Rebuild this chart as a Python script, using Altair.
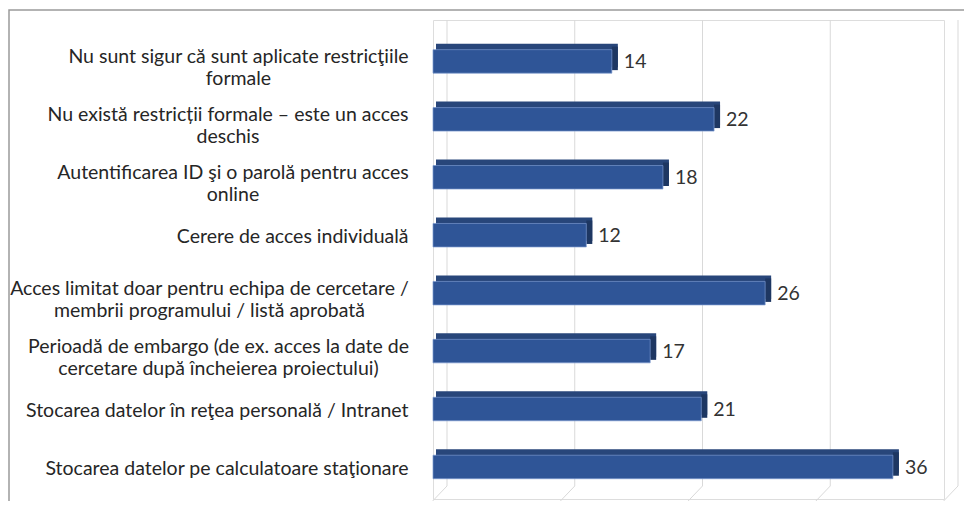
import altair as alt
import pandas as pd

categories = [
    "Nu sunt sigur că sunt aplicate restricţiile\nformale",
    "Nu există restricții formale – este un acces\ndeschis",
    "Autentificarea ID şi o parolă pentru acces\nonline",
    "Cerere de acces individuală",
    "Acces limitat doar pentru echipa de cercetare /\nmembrii programului / listă aprobată",
    "Perioadă de embargo (de ex. acces la date de\ncercetare după încheierea proiectului)",
    "Stocarea datelor în reţea personală / Intranet",
    "Stocarea datelor pe calculatoare staţionare",
]
values = [14, 22, 18, 12, 26, 17, 21, 36]
grid_ticks = [0, 10, 20, 30, 40]
# half-width of the first line of each two-line label (for centred label blocks)
first_line_half = [170, 180.5, 175.5, 0, 199, 190, 0, 0]

df = pd.DataFrame({"cat": categories, "val": values})
gdf = pd.DataFrame({"t": grid_ticks})

FONT = "Lato"
W, H = 511, 479
PAD = 25

xs = alt.Scale(domain=[0, 40], nice=False, zero=True)
ys = alt.Scale(domain=categories, paddingInner=0, paddingOuter=0.1335, align=0.803)

multi = "indexof(datum.label, '\\n') >= 0"
pad_conds = []
for c, hw in zip(categories, first_line_half):
    if "\n" in c:
        key = c.split("\n")[0][:12].replace("'", "\\'")
        pad_conds.append({"test": f"indexof(datum.label, '{key}') == 0", "value": PAD + hw})

frame = alt.Chart(gdf).mark_rect(fill="white", fillOpacity=0, stroke="#9a9a9a", strokeWidth=1.5).encode(
    x=alt.value(-424), x2=alt.value(560), y=alt.value(-10), y2=alt.value(520)
).transform_filter("datum.t == 0")

grid_v = alt.Chart(gdf).mark_rule(color="#d9d9d9", strokeWidth=1, xOffset=14).encode(
    x=alt.X("t:Q", scale=xs, axis=None), y=alt.value(0), y2=alt.value(466)
)
grid_d = alt.Chart(gdf).mark_rule(color="#d9d9d9", strokeWidth=1, xOffset=14, x2Offset=-8).encode(
    x=alt.X("t:Q", scale=xs, axis=None), x2="t:Q", y=alt.value(466), y2=alt.value(489)
)

y_enc = alt.Y("cat:N", scale=ys, sort=categories, title=None,
              axis=alt.Axis(domain=False, ticks=False,
                            labelAlign={"condition": {"test": multi, "value": "center"}, "value": "right"},
                            labelPadding={"condition": pad_conds, "value": PAD},
                            labelFont=FONT, labelFontSize=19.5, labelColor="#262626",
                            labelLineHeight=22, labelLimit=0,
                            labelOffset={"condition": {"test": multi, "value": -4}, "value": 2},
                            labelExpr="split(datum.label, '\\n')"))

top_face = alt.Chart(df).mark_bar(size=23.5, color="#28467A", xOffset=6, x2Offset=3, yOffset=-6).encode(
    x=alt.X("val:Q", scale=xs, axis=None), x2=alt.datum(0), y=y_enc
)
side_face = alt.Chart(df).mark_bar(size=23.5, color="#1E3762", x2Offset=6, yOffset=-3).encode(
    x=alt.X("val:Q", scale=xs, axis=None), x2="val:Q", y=y_enc
)
front = alt.Chart(df).mark_bar(size=23.5, color="#2F5597", stroke="#7A98CF", strokeWidth=0.7).encode(
    x=alt.X("val:Q", scale=xs, axis=None), y=y_enc
)
labels = alt.Chart(df).mark_text(align="left", baseline="middle", dx=12, dy=1, font=FONT,
                                 fontSize=19.5, color="#333333").encode(
    x=alt.X("val:Q", scale=xs, axis=None), y=y_enc, text="val:Q"
)

chart = alt.layer(frame, grid_v, grid_d, top_face, side_face, front, labels).properties(
    width=W, height=H,
    autosize=alt.AutoSizeParams(type="none"),
    padding={"left": 425, "top": 12, "right": 20, "bottom": 2},
).configure_view(stroke=None).configure(background="white")

chart.save("out.html", embed_options={"renderer": "svg", "actions": False})
